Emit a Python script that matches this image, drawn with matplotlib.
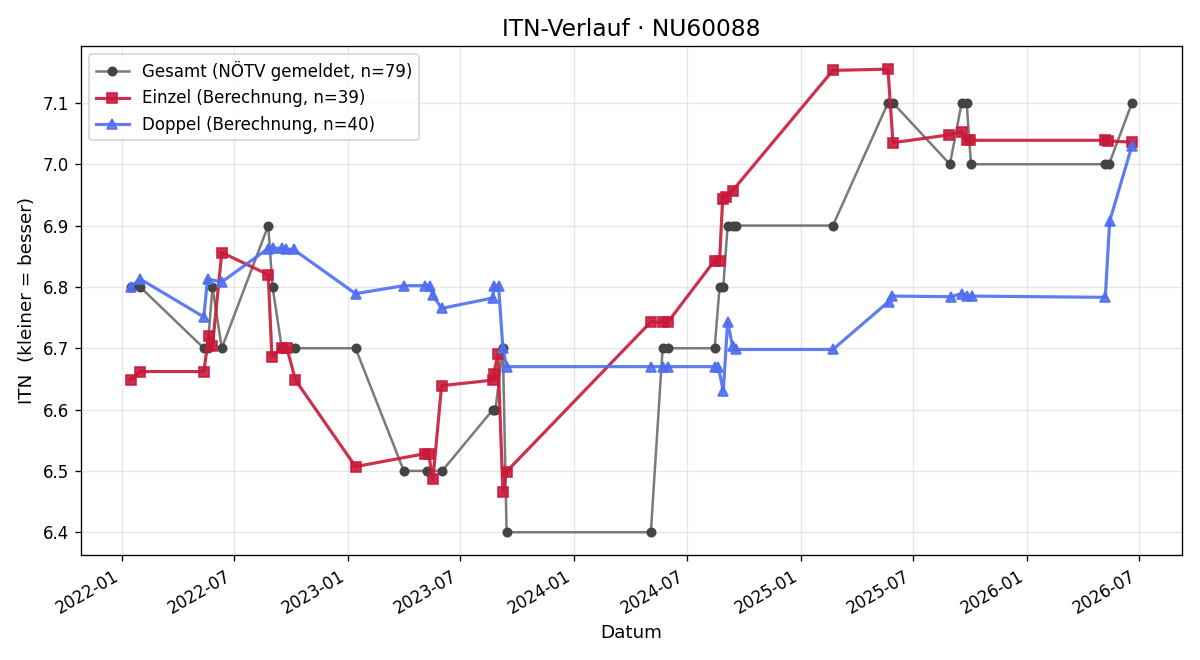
import pandas as pd
import matplotlib
matplotlib.use("Agg")
import matplotlib.pyplot as plt
import matplotlib.dates as mdates

# Gesamt (NÖTV gemeldet)
gesamt_dates = [
    "2022-01-15", "2022-01-30", "2022-05-13", "2022-05-19", "2022-05-27", "2022-06-11",
    "2022-08-25", "2022-09-01", "2022-09-16", "2022-10-08", "2023-01-13", "2023-04-01",
    "2023-05-08", "2023-06-02", "2023-08-23", "2023-08-27", "2023-09-08", "2023-09-14",
    "2024-05-04", "2024-05-23", "2024-05-31", "2024-08-15", "2024-08-23", "2024-08-29",
    "2024-09-05", "2024-09-13", "2024-09-19", "2025-02-22", "2025-05-22", "2025-05-30",
    "2025-08-30", "2025-09-18", "2025-09-26", "2025-10-03", "2026-05-08", "2026-05-14",
    "2026-06-20",
]
gesamt_itn = [
    6.80, 6.80, 6.70, 6.70, 6.80, 6.70,
    6.90, 6.80, 6.70, 6.70, 6.70, 6.50,
    6.50, 6.50, 6.60, 6.60, 6.70, 6.40,
    6.40, 6.70, 6.70, 6.70, 6.80, 6.80,
    6.90, 6.90, 6.90, 6.90, 7.10, 7.10,
    7.00, 7.10, 7.10, 7.00, 7.00, 7.00,
    7.10,
]

# Einzel (Berechnung)
einzel_dates = [
    "2022-01-15", "2022-01-30", "2022-05-13", "2022-05-21", "2022-05-27", "2022-06-11",
    "2022-08-25", "2022-08-31", "2022-09-16", "2022-09-24", "2022-10-08", "2023-01-13",
    "2023-05-05", "2023-05-11", "2023-05-18", "2023-06-01", "2023-08-23", "2023-08-24",
    "2023-08-31", "2023-09-08", "2023-09-14", "2024-05-04", "2024-05-23", "2024-05-31",
    "2024-08-15", "2024-08-23", "2024-08-28", "2024-09-03", "2024-09-13", "2025-02-22",
    "2025-05-22", "2025-05-30", "2025-08-29", "2025-09-18", "2025-09-26", "2025-10-02",
    "2026-05-07", "2026-05-13", "2026-06-20",
]
einzel_itn = [
    6.649, 6.662, 6.662, 6.720, 6.704, 6.856,
    6.820, 6.686, 6.701, 6.701, 6.648, 6.507,
    6.528, 6.528, 6.486, 6.639, 6.648, 6.658,
    6.690, 6.466, 6.499, 6.743, 6.742, 6.742,
    6.843, 6.843, 6.944, 6.947, 6.957, 7.153,
    7.155, 7.035, 7.048, 7.053, 7.040, 7.039,
    7.039, 7.038, 7.036,
]

# Doppel (Berechnung)
doppel_dates = [
    "2022-01-15", "2022-01-30", "2022-05-13", "2022-05-19", "2022-06-11", "2022-08-24",
    "2022-09-01", "2022-09-16", "2022-09-22", "2022-10-05", "2023-01-13", "2023-04-01",
    "2023-05-05", "2023-05-13", "2023-05-18", "2023-06-01", "2023-08-23", "2023-08-24",
    "2023-09-01", "2023-09-08", "2023-09-14", "2024-05-04", "2024-05-23", "2024-05-31",
    "2024-08-15", "2024-08-21", "2024-08-29", "2024-09-05", "2024-09-13", "2024-09-19",
    "2025-02-22", "2025-05-23", "2025-05-29", "2025-08-31", "2025-09-18", "2025-09-26",
    "2025-10-04", "2026-05-08", "2026-05-15", "2026-06-20",
]
doppel_itn = [
    6.800, 6.813, 6.751, 6.813, 6.808, 6.862,
    6.863, 6.863, 6.862, 6.861, 6.789, 6.802,
    6.802, 6.802, 6.786, 6.765, 6.782, 6.802,
    6.802, 6.700, 6.670, 6.670, 6.670, 6.670,
    6.670, 6.669, 6.630, 6.743, 6.703, 6.698,
    6.698, 6.776, 6.785, 6.784, 6.789, 6.785,
    6.785, 6.783, 6.907, 7.030,
]

fig, ax = plt.subplots(figsize=(10, 5.5), dpi=120)

ax.plot(pd.to_datetime(gesamt_dates), gesamt_itn, "-o", color="#7a7a7a", lw=1.5,
        markersize=5, markerfacecolor="#444444", markeredgecolor="#444444",
        label="Gesamt (NÖTV gemeldet, n=79)")
ax.plot(pd.to_datetime(einzel_dates), einzel_itn, "-s", color="#c8193a", lw=1.9,
        markersize=6.5, alpha=0.9, label=f"Einzel (Berechnung, n={len(einzel_itn)})")
ax.plot(pd.to_datetime(doppel_dates), doppel_itn, "-^", color="#4f6ef0", lw=1.9,
        markersize=6.5, alpha=0.9, label=f"Doppel (Berechnung, n={len(doppel_itn)})")

ax.set_title("ITN-Verlauf · NU60088", fontsize=14)
ax.set_xlabel("Datum", fontsize=11)
ax.set_ylabel("ITN  (kleiner = besser)", fontsize=11)
ax.xaxis.set_major_locator(mdates.MonthLocator(bymonth=[1, 7]))
ax.xaxis.set_major_formatter(mdates.DateFormatter("%Y-%m"))
ax.grid(True, alpha=0.3)
ax.legend(loc="upper left")
fig.autofmt_xdate()

fig.tight_layout()
fig.savefig("out.png")
